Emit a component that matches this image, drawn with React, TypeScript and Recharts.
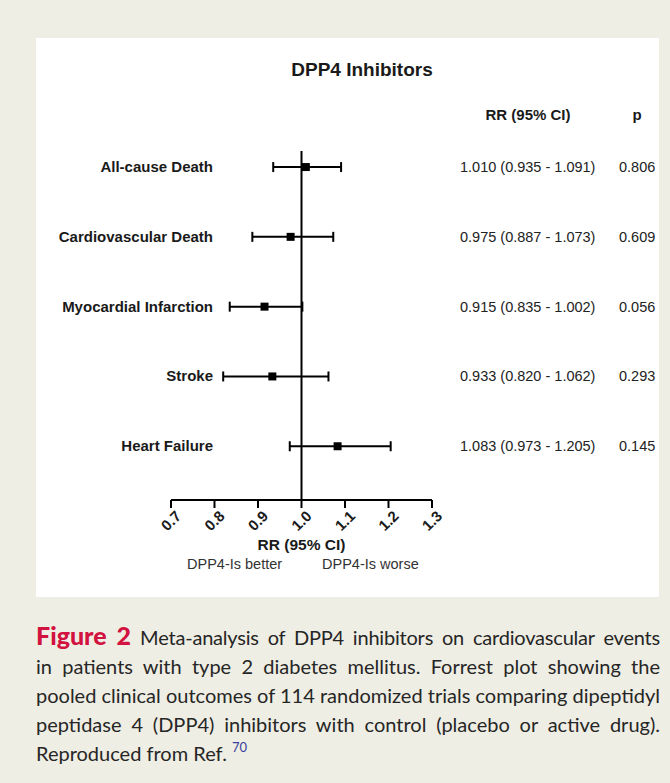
import React from 'react';
import {
  ScatterChart,
  Scatter,
  XAxis,
  YAxis,
  ZAxis,
  ErrorBar,
  ReferenceLine,
} from 'recharts';

const categories = [
  'All-cause Death',
  'Cardiovascular Death',
  'Myocardial Infarction',
  'Stroke',
  'Heart Failure',
];
const rrValues = [1.01, 0.975, 0.915, 0.933, 1.083];
const lowerCI = [0.935, 0.887, 0.835, 0.82, 0.973];
const upperCI = [1.091, 1.073, 1.002, 1.062, 1.205];
const pValues = ['0.806', '0.609', '0.056', '0.293', '0.145'];
const xTicks = [0.7, 0.8, 0.9, 1.0, 1.1, 1.2, 1.3];
const rowTicks = [0, 1, 2, 3, 4];

const data = categories.map((name, i) => ({
  idx: i,
  name,
  rr: rrValues[i],
  err: [rrValues[i] - lowerCI[i], upperCI[i] - rrValues[i]],
}));

const ciText = (i: number) =>
  `${rrValues[i].toFixed(3)} (${lowerCI[i].toFixed(3)} - ${upperCI[i].toFixed(3)})`;

const chartFont = '"Liberation Sans", Arial, sans-serif';

const LeftTick = (props: any) => {
  const { x, y, payload } = props;
  return (
    <text
      x={x}
      y={y}
      dx={42}
      dy={5}
      textAnchor="end"
      fontFamily={chartFont}
      fontWeight="bold"
      fontSize={15}
      fill="#1a1a1a"
    >
      {categories[payload.value]}
    </text>
  );
};

const RightTick = (props: any) => {
  const { x, y, payload } = props;
  const i = payload.value;
  return (
    <g fontFamily={chartFont} fontSize={14.5} fill="#222">
      <text x={x} y={y} dx={28} dy={5} textAnchor="start">
        {ciText(i)}
      </text>
      <text x={x} y={y} dx={187} dy={5} textAnchor="start">
        {pValues[i]}
      </text>
    </g>
  );
};

const XTick = (props: any) => {
  const { x, y, payload } = props;
  return (
    <g transform={`translate(${x + 4},${y + 2})`}>
      <text
        x={0}
        y={0}
        dy={10}
        textAnchor="end"
        transform="rotate(-45)"
        fontFamily={chartFont}
        fontWeight="bold"
        fontSize={15}
        fill="#1a1a1a"
      >
        {payload.value.toFixed(1)}
      </text>
    </g>
  );
};

const abs = (left: number, top: number, extra: React.CSSProperties = {}): React.CSSProperties => ({
  position: 'absolute',
  left,
  top,
  ...extra,
});

const captionLines = [
  'Meta-analysis of DPP4 inhibitors on cardiovascular events',
  'in patients with type 2 diabetes mellitus. Forrest plot showing the',
  'pooled clinical outcomes of 114 randomized trials comparing dipeptidyl',
  'peptidase 4 (DPP4) inhibitors with control (placebo or active drug).',
];

export default function App() {
  return (
    <div
      style={{
        position: 'absolute',
        left: 0,
        top: 0,
        width: 670,
        height: 783,
        background: '#efeee4',
        overflow: 'hidden',
      }}
    >
      <div style={abs(36, 38, { width: 623, height: 559, background: '#ffffff' })} />

      <div
        style={abs(0, 58, {
          width: 724,
          textAlign: 'center',
          fontFamily: chartFont,
          fontWeight: 'bold',
          fontSize: 19,
          lineHeight: '24px',
          color: '#1a1a1a',
        })}
      >
        DPP4 Inhibitors
      </div>
      <div
        style={abs(428, 106, {
          width: 200,
          textAlign: 'center',
          fontFamily: chartFont,
          fontWeight: 'bold',
          fontSize: 15,
          lineHeight: '18px',
          color: '#1a1a1a',
        })}
      >
        RR (95% CI)
      </div>
      <div
        style={abs(590, 106, {
          width: 94,
          textAlign: 'center',
          fontFamily: chartFont,
          fontWeight: 'bold',
          fontSize: 15,
          lineHeight: '18px',
          color: '#1a1a1a',
        })}
      >
        p
      </div>

      <div style={abs(0, 0)}>
        <ScatterChart
          width={670}
          height={620}
          margin={{ top: 151, right: 178, bottom: 60, left: 111 }}
        >
          <XAxis
            type="number"
            dataKey="rr"
            domain={[0.7, 1.3]}
            ticks={xTicks}
            allowDataOverflow
            height={60}
            tickSize={8}
            tickMargin={0}
            axisLine={{ stroke: '#000', strokeWidth: 2 }}
            tickLine={{ stroke: '#000', strokeWidth: 2 }}
            tick={<XTick />}
            interval={0}
            label={{
              value: 'RR (95% CI)',
              position: 'insideBottom',
              offset: 10,
              style: {
                fontFamily: chartFont,
                fontWeight: 'bold',
                fontSize: 15.5,
                fill: '#1a1a1a',
              },
            }}
          />
          <YAxis
            yAxisId="left"
            type="number"
            dataKey="idx"
            domain={[-0.23, 4.77]}
            reversed
            allowDataOverflow
            ticks={rowTicks}
            interval={0}
            width={60}
            tickSize={0}
            tickMargin={0}
            axisLine={false}
            tickLine={false}
            tick={<LeftTick />}
          />
          <YAxis
            yAxisId="right"
            orientation="right"
            type="number"
            dataKey="idx"
            domain={[-0.23, 4.77]}
            reversed
            allowDataOverflow
            ticks={rowTicks}
            interval={0}
            width={60}
            tickSize={0}
            tickMargin={0}
            axisLine={false}
            tickLine={false}
            tick={<RightTick />}
          />
          <ZAxis range={[64, 64]} />
          <ReferenceLine yAxisId="left" x={1} stroke="#000" strokeWidth={2} />
          <Scatter
            yAxisId="left"
            data={data}
            dataKey="rr"
            shape="square"
            fill="#000"
            isAnimationActive={false}
          >
            <ErrorBar
              dataKey="err"
              direction="x"
              width={5}
              stroke="#000"
              strokeWidth={2}
              isAnimationActive={false}
            />
          </Scatter>
        </ScatterChart>
      </div>

      <div
        style={abs(187, 555, {
          fontFamily: chartFont,
          fontSize: 14.5,
          lineHeight: '18px',
          color: '#333',
        })}
      >
        DPP4-Is better
      </div>
      <div
        style={abs(322, 555, {
          fontFamily: chartFont,
          fontSize: 14.5,
          lineHeight: '18px',
          color: '#333',
        })}
      >
        DPP4-Is worse
      </div>

      <div
        style={abs(36, 621, {
          width: 624,
          fontFamily: 'Lato, "Open Sans", sans-serif',
          fontSize: 20,
          lineHeight: '29px',
          color: '#262626',
        })}
      >
        {captionLines.map((line, i) => (
          <div
            key={i}
            style={{ textAlign: 'justify', textAlignLast: 'justify' as any, whiteSpace: 'nowrap' }}
          >
            {i === 0 ? (
              <span>
                <span style={{ color: '#d2123f', fontWeight: 900, fontSize: 25 }}>Figure 2</span>{' '}
                <span style={{ letterSpacing: '-0.2px' }}>{line}</span>
              </span>
            ) : (
              line
            )}
          </div>
        ))}
        <div style={{ whiteSpace: 'nowrap' }}>
          Reproduced from Ref.{' '}
          <span
            style={{
              color: '#3a3fa0',
              fontSize: 13,
              lineHeight: 0,
              position: 'relative',
              top: -9,
            }}
          >
            70
          </span>
        </div>
      </div>
    </div>
  );
}
